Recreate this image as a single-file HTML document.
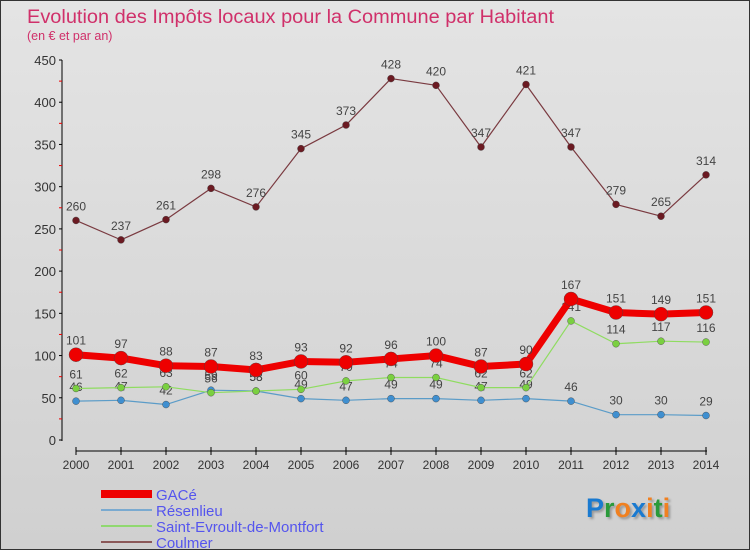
<!DOCTYPE html>
<html><head><meta charset="utf-8"><style>
body{margin:0;width:750px;height:550px;overflow:hidden;font-family:"Liberation Sans",sans-serif;}
#wrap{position:relative;width:748px;height:548px;border:1px solid #333;background:linear-gradient(#e4e4e4,#d0d0d0);}
</style></head><body>
<div id="wrap">
<svg id="chart" width="748" height="548">
<text x="26" y="22" font-size="19" fill="#d0306a" textLength="527" lengthAdjust="spacingAndGlyphs">Evolution des Impôts locaux pour la Commune par Habitant</text>
<text x="26" y="39" font-size="12.5" fill="#d0306a">(en € et par an)</text>
</svg>
</div>
<script>
const years=[2000,2001,2002,2003,2004,2005,2006,2007,2008,2009,2010,2011,2012,2013,2014];
const gace=[101,97,88,87,83,93,92,96,100,87,90,167,151,149,151];
const resenlieu=[46,47,42,59,58,49,47,49,49,47,49,46,30,30,29];
const stEvroult=[61,62,63,56,58,60,70,74,74,62,62,141,114,117,116];
const coulmer=[260,237,261,298,276,345,373,428,420,347,421,347,279,265,314];
const yTicks=[0,50,100,150,200,250,300,350,400,450];
const svg=document.getElementById('chart');
const NS='http://www.w3.org/2000/svg';
const X=i=>75+i*45;
const Y=v=>439-v*380/450;
function el(t,a){const e=document.createElementNS(NS,t);for(const k in a)e.setAttribute(k,a[k]);svg.appendChild(e);return e;}
let ax=el('line',{x1:61,y1:59,x2:61,y2:440,stroke:'#000','stroke-width':1});


yTicks.forEach(v=>{
 const t=el('text',{x:55,y:Y(v)+5,'font-size':13,'text-anchor':'end',fill:'#333'});t.textContent=v;
 
 
 el('line',{x1:58,y1:Y(v),x2:61,y2:Y(v),stroke:'#000'});
 if(v<450)el('line',{x1:58,y1:Y(v+25),x2:61,y2:Y(v+25),stroke:'#e00'});
});
let xa=el('line',{x1:75,y1:450,x2:706,y2:450,stroke:'#000'});


years.forEach((y,i)=>{
 el('line',{x1:X(i),y1:446,x2:X(i),y2:454,stroke:'#000'});
 const t=el('text',{x:X(i),y:468,'font-size':12,'text-anchor':'middle',fill:'#333'});t.textContent=y;
 
 
});
function series(data,color,w,r,name,pc){
 const p=el('polyline',{points:data.map((v,i)=>X(i)+','+Y(v)).join(' '),fill:'none',stroke:color,'stroke-width':w,'stroke-linejoin':'round'});
 
 
 data.forEach((v,i)=>{
  const c=el('circle',{cx:X(i),cy:Y(v),r:r,fill:pc||color,stroke:'#444','stroke-width':0.4});
  
  
  const t=el('text',{x:X(i),y:Y(v)-10,'font-size':12,'text-anchor':'middle',fill:'#444'});t.textContent=v;
  
  
 });
}
series(coulmer,'#7a3a40',1.2,3.5,'coulmer','#6b1a22');
series(resenlieu,'#5b9cc8',1.2,3.5,'resenlieu','#3f8fd0');
series(stEvroult,'#8fdc60',1.2,3.5,'saint-evroult','#7ad040');
series(gace,'#ee0000',7,7,'gace','#ee0000');
const leg=[['GACé','#ee0000',8],['Résenlieu','#7aaad0',2],['Saint-Evroult-de-Montfort','#90d870',2],['Coulmer','#8a5858',2]];
leg.forEach((l,i)=>{
 const y=493+i*16;
 el('line',{x1:100,y1:y,x2:151,y2:y,stroke:l[1],'stroke-width':l[2]});
 const t=el('text',{x:155,y:y+6,'font-size':15,fill:'#5555ee'});t.textContent=l[0];
 
 
});
const logo=el('text',{x:585,y:516,'font-size':27,'font-weight':'bold',style:'text-shadow:2px 2px 2px #999'});


[['P','#1a7ad0'],['r','#2a9a3a'],['o','#f08020'],['x','#1a7ad0'],['i','#f08020'],['t','#2a9a3a'],['i','#f08020']].forEach(c=>{const s=document.createElementNS(NS,'tspan');s.setAttribute('fill',c[1]);s.textContent=c[0];logo.appendChild(s);});
</script>
</body></html>
